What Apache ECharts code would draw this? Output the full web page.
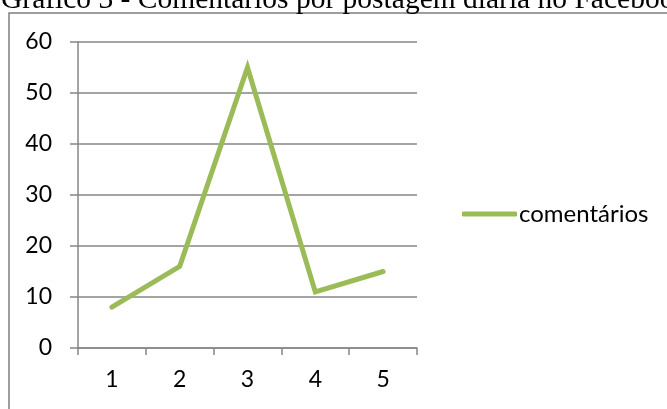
<!DOCTYPE html>
<html><head><meta charset="utf-8">
<script src="https://cdn.jsdelivr.net/npm/echarts@6/dist/echarts.min.js"></script>
<style>html,body{margin:0;padding:0;background:#fff}#c{width:667px;height:409px}</style>
</head><body><div id="c"></div>
<script>
const titleText = 'Gráfico 3 - Comentários por postagem diária no Facebook';
const categories = ['1', '2', '3', '4', '5'];
const seriesName = 'comentários';
const values = [8, 16, 55, 11, 15];
const yTicks = { min: 0, max: 60, interval: 10 };

const chart = echarts.init(document.getElementById('c'), null, { renderer: 'canvas' });
const font = 'Lato, "Liberation Sans", sans-serif';
const gray = '#868686';
chart.setOption({
  animation: false,
  backgroundColor: '#fff',
  graphic: [
    { type: 'rect', shape: { x: 9, y: 13, width: 700, height: 420 }, style: { fill: 'none', stroke: '#7f7f7f', lineWidth: 1.5 }, z: 0 },
    { type: 'text', left: 1, top: -15, style: { text: titleText, font: '29.5px "Liberation Serif", serif', fill: '#000' }, z: 10 }
  ],
  grid: { left: 78, right: 250, top: 42, bottom: 61, containLabel: false },
  legend: {
    data: [seriesName], left: 457, top: 197, itemWidth: 55, itemHeight: 5, itemGap: 0,
    icon: 'roundRect',
    itemStyle: { color: '#9BBB59' },
    textStyle: { fontFamily: font, fontSize: 24, color: '#000', padding: [0, 0, 0, -3] }
  },
  xAxis: {
    type: 'category', data: categories, boundaryGap: true,
    axisLine: { lineStyle: { color: gray, width: 1.5 } },
    axisTick: { show: true, inside: false, length: 7, alignWithLabel: false, lineStyle: { color: gray, width: 1.5 } },
    axisLabel: { fontFamily: font, fontSize: 23, color: '#000', margin: 20 },
    splitLine: { show: false }
  },
  yAxis: {
    type: 'value', min: yTicks.min, max: yTicks.max, interval: yTicks.interval,
    axisLine: { show: true, lineStyle: { color: gray, width: 1.5 } },
    axisTick: { show: true, length: 8, lineStyle: { color: gray, width: 1.5 } },
    axisLabel: { fontFamily: font, fontSize: 23, color: '#000', margin: 26 },
    splitLine: { show: true, lineStyle: { color: gray, width: 1.5 } }
  },
  series: [{
    name: seriesName, type: 'line', data: values, symbol: 'none',
    lineStyle: { color: '#9BBB59', width: 5, cap: 'round', join: 'miter' },
    itemStyle: { color: '#9BBB59' }
  }]
});
</script></body></html>
